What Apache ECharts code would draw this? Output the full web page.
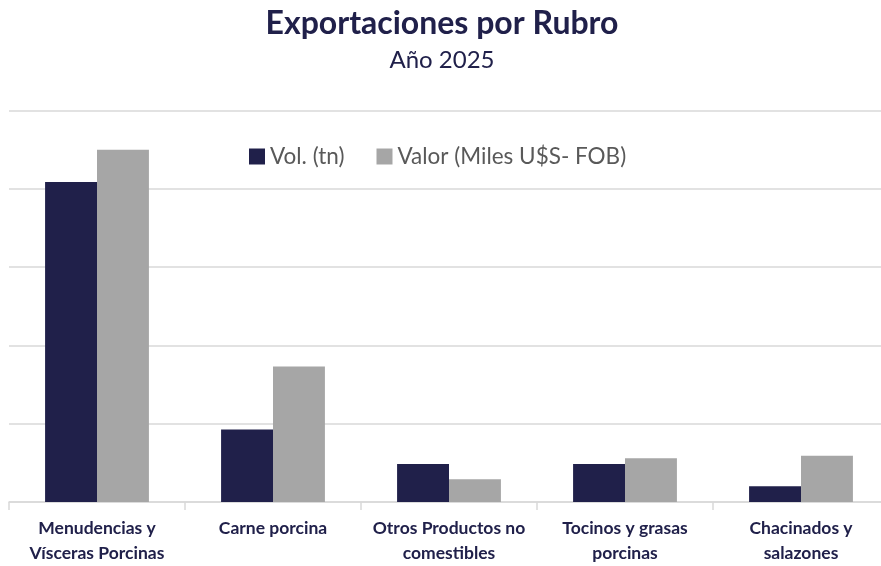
<!DOCTYPE html>
<html>
<head>
	<meta charset="utf-8">
	<title>Exportaciones por Rubro</title>
	<script src="https://cdn.jsdelivr.net/npm/echarts@6/dist/echarts.min.js"></script>
	<style>
		html,body{margin:0;padding:0;background:#fff;overflow:hidden;}
		#chart{width:889px;height:566px;}
	</style>
</head>
<body>
	<div id="chart"></div>
<script type="text/javascript">
	// rubros (eje x)
	var categorias = ['Menudencias y\nVísceras Porcinas', 'Carne porcina', 'Otros Productos no\ncomestibles', 'Tocinos y grasas\nporcinas', 'Chacinados y\nsalazones'];
	// valores (escala relativa, eje y sin etiquetas)
	var volTn = [4.09, 0.925, 0.484, 0.484, 0.20];
	var valorFob = [4.50, 1.73, 0.29, 0.56, 0.59];
	var nombres = ['Vol. (tn)', 'Valor (Miles U$S- FOB)'];

	var navy = '#20204a';
	var gris = '#a6a6a6';

	// el área del gráfico sobresale un poco a la derecha, como en el original
	var myChart = echarts.init(document.getElementById('chart'));
	var option = {
		backgroundColor: '#fff',
		title: {
			text: 'Exportaciones por Rubro',
			subtext: 'Año 2025',
			left: 437,
			textAlign: 'center',
			top: 3,
			itemGap: 8,
			textStyle: {
				fontFamily: 'Lato',
				fontWeight: 'bold',
				fontSize: 32,
				color: navy
			},
			subtextStyle: {
				fontFamily: 'Lato',
				fontSize: 24,
				color: navy
			}
		},
		legend: {
			data: nombres,
			top: 140,
			left: 244,
			itemWidth: 16,
			itemHeight: 16,
			itemGap: 32,
			icon: 'rect',
			textStyle: {
				fontFamily: 'Lato',
				fontSize: 22.5,
				color: '#595959'
			}
		},
		grid: {
			left: 9,
			right: 0,
			top: 110.7,
			bottom: 62.7,
			containLabel: false
		},
		xAxis: {
			type: 'category',
			data: categorias,
			axisLine: {lineStyle: {color: '#d9d9d9', width: 1.5}},
			axisTick: {show: true, length: 8, lineStyle: {color: '#d9d9d9', width: 1.5}},
			axisLabel: {
				interval: 0,
				margin: 14,
				fontFamily: 'Lato',
				fontWeight: 'bold',
				fontSize: 17.5,
				lineHeight: 25,
				color: navy
			}
		},
		yAxis: {
			type: 'value',
			min: 0,
			max: 5,
			interval: 1,
			axisLabel: {show: false},
			axisLine: {show: false},
			axisTick: {show: false},
			splitLine: {lineStyle: {color: '#d9d9d9', width: 1.5}}
		},
		series: [
			{
				name: nombres[0],
				type: 'bar',
				data: volTn,
				barGap: '0%',
				barCategoryGap: '41%',
				itemStyle: {color: navy}
			},
			{
				name: nombres[1],
				type: 'bar',
				data: valorFob,
				itemStyle: {color: gris}
			}
		]
	};
	myChart.setOption(option);
</script>
</body>
</html>
